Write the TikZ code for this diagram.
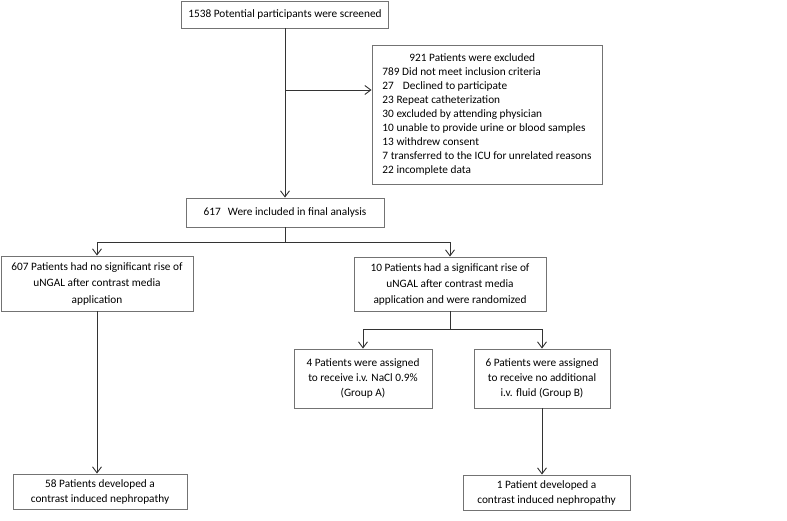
\documentclass[tikz,border=0pt]{standalone}
\usepackage{fontspec}
\setmainfont{Carlito}
\usetikzlibrary{arrows.meta}
\begin{document}
\begin{tikzpicture}[x=1pt,y=1pt,
  box/.style={draw=black!55,line width=0.9pt,rectangle,inner sep=0pt,align=center,
    font=\fontsize{11.3}{15}\selectfont},
  conn/.style={draw=black!80,line width=0.9pt},
  arr/.style={conn,-{Straight Barb[length=6pt,width=9pt,line width=0.9pt]}}]
\useasboundingbox (0,0) rectangle (787,-520);
\node[box,minimum width=207,minimum height=27] (b1) at (285,-14.5) {1538 Potential participants were screened};
\node[box,minimum width=230,minimum height=139,align=left,font=\fontsize{11.3}{14}\selectfont] (b2) at (487,-114.5) {\hspace*{27pt}921 Patients were excluded\\
789 Did not meet inclusion criteria\\
27\hspace{0.8em}Declined to participate\\
23 Repeat catheterization\\
30 excluded by attending physician\\
10 unable to provide urine or blood samples\\
13 withdrew consent\\
7 transferred to the ICU for unrelated reasons\\
22 incomplete data};
\node[box,minimum width=198,minimum height=29] (b3) at (285,-212.5) {617\hspace{0.4em} Were included in final analysis};
\node[box,minimum width=192,minimum height=55,font=\fontsize{11.3}{16.5}\selectfont] (b4) at (97,-283.5) {607 Patients had no significant rise of\\uNGAL after contrast media\\application};
\node[box,minimum width=192,minimum height=54,font=\fontsize{11.3}{16}\selectfont] (b5) at (450,-284) {10 Patients had a significant rise of\\uNGAL after contrast media\\application and were randomized};
\node[box,minimum width=138,minimum height=59] (b6) at (363,-378.5) {4 Patients were assigned\\to receive i.v. NaCl 0.9\%\\(Group A)};
\node[box,minimum width=136,minimum height=59] (b7) at (542,-378.5) {6 Patients were assigned\\to receive no additional\\i.v. fluid (Group B)};
\node[box,minimum width=174,minimum height=35] (b8) at (100,-491.5) {58 Patients developed a\\contrast induced nephropathy};
\node[box,minimum width=167,minimum height=35] (b9) at (546.5,-492.5) {1 Patient developed a\\contrast induced nephropathy};
\coordinate (s1) at (285,-90);
\coordinate (s3) at (285,-242);
\coordinate (s5) at (450,-329);
\draw[arr] (b1.south) -- (b3.north);
\draw[arr] (s1) -- (s1 -| b2.west);
\draw[conn] (b3.south) -- (s3);
\draw[arr] (s3) -| (b4.north);
\draw[arr] (s3) -| (b5.north);
\draw[arr] (b4.south) -- (b4.south |- b8.north);
\draw[conn] (b5.south) -- (s5);
\draw[arr] (s5) -| (b6.north);
\draw[arr] (s5) -| (b7.north);
\draw[arr] (b7.south) -- (b7.south |- b9.north);
\end{tikzpicture}
\end{document}
